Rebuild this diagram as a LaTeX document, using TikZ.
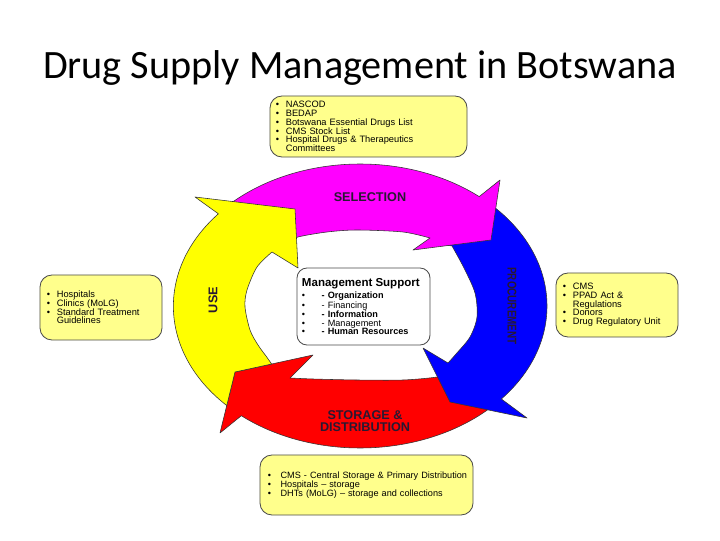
\documentclass[tikz,border=0pt]{standalone}
\usepackage{fontspec}
\usepackage{graphicx}
\setmainfont{Liberation Sans}
\newfontfamily\titlefont{Carlito}
\usetikzlibrary{calc}
\definecolor{boxyellow}{RGB}{255,255,140}
\definecolor{labeldark}{RGB}{40,25,50}
\definecolor{useyellow}{RGB}{255,255,0}
\definecolor{selmagenta}{RGB}{255,0,255}
\definecolor{procblue}{RGB}{0,0,255}
\definecolor{storred}{RGB}{255,0,0}
\newcommand{\bul}{\makebox[7pt][l]{\textbullet}}

\begin{document}
\begin{tikzpicture}[x=0.025cm, y=0.025cm,
    cyclearrow/.style={draw=black!80, line width=0.4pt, line join=round},
    infobox/.style={draw=black!70, line width=0.6pt, fill=boxyellow, rounded corners=0.3cm,
      align=left, inner xsep=0.175cm, inner ysep=0pt, font=\fontsize{6.6}{6.2}\selectfont},
    arrowlabel/.style={font=\bfseries\fontsize{9}{8.6}\selectfont, text=labeldark, align=center, inner sep=0pt}]

  \useasboundingbox (0,0) rectangle (720,540);

  \coordinate (C) at (360,234);
  \coordinate (storBarbO) at (220,107);
  \coordinate (storTip) at (235,168);
  \coordinate (storBarbI) at (313,185);
  \coordinate (procBarbO) at (527,122);
  \coordinate (procTip) at (450,138);
  \coordinate (procBarbI) at (423,192);
  \coordinate (selBarbO) at (500,360);
  \coordinate (selTip) at (491,300);
  \coordinate (selBarbI) at (413,290);
  \coordinate (useBarbO) at (195,343);
  \coordinate (useTip) at (295,331);
  \coordinate (useBarbI) at (298,272);

  \path[cyclearrow, fill=storred] ($(C)+(-43:187 and 142)$)
    arc[start angle=-43, end angle=-129.4, x radius=187, y radius=142]
    -- (storBarbO) -- (storTip) -- (storBarbI)
    -- plot[smooth] coordinates {(290,162) (313,161) (357,160) (403,160) (437,163) (455,168)} -- cycle;

  \path[cyclearrow, fill=procblue] ($(C)+(47:187 and 142)$)
    arc[start angle=47, end angle=-40.9, x radius=187, y radius=142]
    -- (procBarbO) -- (procTip) -- (procBarbI)
    -- plot[smooth] coordinates {(448,177) (456,186) (470,203) (477,223) (475,247) (464,272) (452,294)}
    -- (428,298) -- cycle;

  \path[cyclearrow, fill=selmagenta] ($(C)+(135:187 and 142)$)
    arc[start angle=135, end angle=50.4, x radius=187, y radius=142]
    -- (selBarbO) -- (selTip) -- (selBarbI)
    -- plot[smooth] coordinates {(430,302) (403,308) (357,310) (327,308) (298,303) (286,297)} -- cycle;

  \path[cyclearrow, fill=useyellow] ($(storBarbO)!0.45!(storTip)$)
    arc[start angle=224.4, end angle=139.4, x radius=187, y radius=142]
    -- (useBarbO) -- (useTip) -- (useBarbI)
    -- plot[smooth] coordinates {(272,288) (257,273) (247,250) (245,233) (250,210) (258,195) (266,184)}
    -- ($(storTip)!0.47!(storBarbI)$) -- (storTip) -- cycle;

  \node[arrowlabel] (sellabel) at (370,343) {SELECTION};
  \node[arrowlabel, rotate=-90] (proclabel) at (512,234) {\scalebox{0.78}[1]{PROCUREMENT}};
  \node[arrowlabel] (storlabel) at (365,119) {STORAGE \&\\DISTRIBUTION};
  \node[arrowlabel, rotate=90] (uselabel) at (213,240) {USE};

  \node[font=\titlefont\fontsize{28.6}{30}\selectfont] (title) at (360,472) {Drug Supply Management in Botswana};

  \node[infobox, inner xsep=0.15cm, minimum width=4.925cm, minimum height=1.525cm, text width=4.625cm] (selbox) at (368.5,413.5)
    {\bul NASCOD\\ \bul BEDAP\\ \bul Botswana Essential Drugs List\\ \bul CMS Stock List\\
     \bul Hospital Drugs \& Therapeutics\\ \hspace*{7pt}Committees};
  \node[infobox, minimum width=3.05cm, minimum height=1.625cm, text width=2.7cm] (usebox) at (101,232.5)
    {\bul Hospitals\\ \bul Clinics (MoLG)\\ \bul Standard Treatment\\ \hspace*{7pt}Guidelines};
  \node[infobox, minimum width=3.05cm, minimum height=1.6cm, text width=2.7cm] (procbox) at (617,235)
    {\bul CMS\\ \bul PPAD Act \&\\ \hspace*{7pt}Regulations\\ \bul Donors\\ \bul Drug Regulatory Unit};
  \node[infobox, inner xsep=0.2cm, minimum width=5.325cm, minimum height=1.5cm, text width=4.925cm,
        font=\fontsize{6.5}{6.3}\selectfont] (storbox) at (366.5,55)
    {\makebox[9pt][l]{\textbullet}\mbox{CMS - Central Storage \& Primary Distribution}\\
     \makebox[9pt][l]{\textbullet}Hospitals -- storage\\
     \makebox[9pt][l]{\textbullet}DHTs (MoLG) -- storage and collections};

  \node[infobox, fill=white, rounded corners=0.25cm, inner xsep=0.125cm, minimum width=3.325cm, minimum height=1.925cm,
        text width=3.075cm, font=\fontsize{6.5}{6}\selectfont] (mgmtbox) at (363.5,233.5)
    {{\fontsize{8.2}{9}\selectfont\bfseries Management Support}\\[1pt]
     \makebox[14pt][l]{\textbullet}\textbf{- Organization}\\
     \makebox[14pt][l]{\textbullet}- Financing\\
     \makebox[14pt][l]{\textbullet}\textbf{- Information}\\
     \makebox[14pt][l]{\textbullet}- Management\\
     \makebox[14pt][l]{\textbullet}\textbf{- Human Resources}};
\end{tikzpicture}
\end{document}
